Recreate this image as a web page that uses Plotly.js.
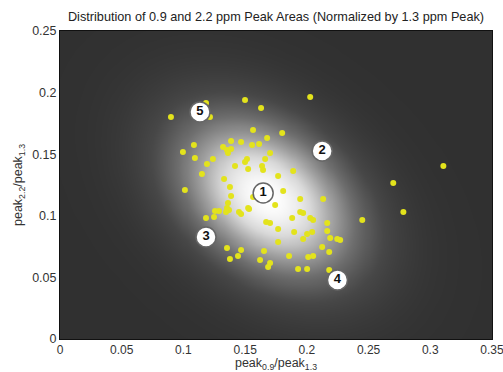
<!DOCTYPE html>
<html><head><meta charset="utf-8">
<script src="https://cdn.plot.ly/plotly-3.0.1.min.js"></script>
<style>html,body{margin:0;padding:0;background:#fff;}#chart{width:503px;height:372px;}</style>
</head><body><div id="chart"></div>
<script>
// peak 0.9 / peak 1.3 (x) and peak 2.2 / peak 1.3 (y)
const ratio09 = [0.0899,0.1183,0.1215,0.1499,0.1629,0.2027,0.1564,0.1800,0.1678,0.1613,0.1556,0.1467,0.1386,0.1321,0.1353,0.1386,0.1361,0.1085,0.0996,0.1093,0.1239,0.1191,0.1515,0.1499,0.1662,0.1702,0.1637,0.1645,0.1418,0.1524,0.1150,0.1329,0.1377,0.1767,0.1889,0.1012,0.1808,0.1386,0.1564,0.1361,0.1256,0.1288,0.1353,0.1369,0.1345,0.1450,0.1467,0.1524,0.1532,0.1183,0.1248,0.1743,0.1946,0.2132,0.1946,0.1970,0.1881,0.2027,0.2051,0.1670,0.1702,0.1767,0.1897,0.2002,0.2043,0.1970,0.2165,0.2165,0.2189,0.2246,0.2270,0.1767,0.2124,0.2181,0.1353,0.1467,0.1442,0.1377,0.1653,0.1856,0.2011,0.2051,0.1621,0.1702,0.1686,0.1929,0.2002,0.2181,0.3106,0.2700,0.2782,0.2449];
const ratio22 = [0.1802,0.1916,0.1802,0.1940,0.1875,0.1964,0.1696,0.1672,0.1631,0.1583,0.1575,0.1599,0.1607,0.1558,0.1534,0.1542,0.1510,0.1575,0.1518,0.1469,0.1461,0.1420,0.1461,0.1437,0.1461,0.1510,0.1404,0.1372,0.1404,0.1380,0.1339,0.1299,0.1234,0.1323,0.1364,0.1209,0.1201,0.1161,0.1153,0.1104,0.1039,0.1039,0.1063,0.1047,0.1031,0.1031,0.1015,0.1063,0.1055,0.0982,0.0990,0.1088,0.1136,0.1136,0.1031,0.1023,0.0982,0.0982,0.0966,0.0950,0.0942,0.0893,0.0869,0.0852,0.0869,0.0812,0.0942,0.0877,0.0820,0.0812,0.0804,0.0787,0.0747,0.0706,0.0739,0.0722,0.0674,0.0649,0.0714,0.0674,0.0666,0.0674,0.0641,0.0617,0.0584,0.0568,0.0568,0.0560,0.1404,0.1266,0.1031,0.0966];

// numbered reference markers
const markerX = [0.1646,0.2124,0.1183,0.2248,0.1134];
const markerY = [0.1185,0.1526,0.0828,0.0479,0.1843];
const markerLabels = ['1','2','3','4','5'];

const xTickVals = [0,0.05,0.1,0.15,0.2,0.25,0.3,0.35];
const xTickText = ['0','0.05','0.1','0.15','0.2','0.25','0.3','0.35'];
const yTickVals = [0,0.05,0.1,0.15,0.2,0.25];
const yTickText = ['0','0.05','0.1','0.15','0.2','0.25'];

// Gaussian fit of the data drawn as the background
const n = ratio09.length;
const mx = ratio09.reduce((a,b)=>a+b,0)/n;
const my = ratio22.reduce((a,b)=>a+b,0)/n;
let sxx=0, syy=0, sxy=0;
for (let i=0;i<n;i++){const dx=ratio09[i]-mx, dy=ratio22[i]-my; sxx+=dx*dx; syy+=dy*dy; sxy+=dx*dy;}
sxx/=n-1; syy/=n-1; sxy/=n-1;
const spread = 1.7;
const det = sxx*syy - sxy*sxy;
const gx = [], gy = [], gz = [];
const NX = 141, NY = 101;
for (let i=0;i<NX;i++) gx.push(0.35*i/(NX-1));
for (let j=0;j<NY;j++) gy.push(0.25*j/(NY-1));
for (let j=0;j<NY;j++){
  const row=[];
  for (let i=0;i<NX;i++){
    const dx=gx[i]-mx, dy=gy[j]-my;
    const q=(syy*dx*dx - 2*sxy*dx*dy + sxx*dy*dy)/det/spread;
    row.push(Math.exp(-0.5*q));
  }
  gz.push(row);
}

const font = 'Liberation Sans, Arial, sans-serif';
const traces = [
  {type:'heatmap', x:gx, y:gy, z:gz, zsmooth:'best', showscale:false, hoverinfo:'skip',
   zmin:0, zmax:1, colorscale:[[0,'#303030'],[0.2,'#474747'],[0.4,'#6e6e6e'],[0.6,'#a0a0a0'],[0.8,'#d8d8d8'],[1,'#ffffff']]},
  {type:'scatter', mode:'markers', x:ratio09, y:ratio22,
   marker:{size:6, color:'#e3e31c', line:{width:0}}, hoverinfo:'x+y'},
  {type:'scatter', mode:'markers+text', x:markerX, y:markerY, text:markerLabels,
   textposition:'middle center', textfont:{family:font, size:13, color:'#111', weight:'bold'},
   marker:{size:20, color:'#ffffff', line:{width:1.5, color:'#666'}}, hoverinfo:'skip'}
];

const layout = {
  width:503, height:372,
  margin:{l:60, r:11, t:31, b:33},
  paper_bgcolor:'#ffffff', plot_bgcolor:'#303030',
  showlegend:false,
  font:{family:font, size:12, color:'#333'},
  title:{text:'Distribution of 0.9 and 2.2 ppm Peak Areas (Normalized by 1.3 ppm Peak)',
    font:{family:font, size:12.7, color:'#222'}, xref:'paper', x:0.5, xanchor:'center',
    yref:'container', y:0.955, yanchor:'middle'},
  xaxis:{range:[0,0.35], tickvals:xTickVals, ticktext:xTickText, ticks:'', showgrid:false, zeroline:false,
    showline:true, mirror:true, linecolor:'#111', linewidth:1, tickfont:{family:font, size:12, color:'#333'},
    ticklabeloverflow:'allow',
    title:{text:'peak<sub>0.9</sub>/peak<sub>1.3</sub>', font:{family:font, size:12.5, color:'#333'}, standoff:5}},
  yaxis:{range:[0,0.25], tickvals:yTickVals, ticktext:yTickText, ticks:'', showgrid:false, zeroline:false,
    showline:true, mirror:true, linecolor:'#111', linewidth:1, tickfont:{family:font, size:12.5, color:'#333'},
    ticklabeloverflow:'allow',
    title:{text:'peak<sub>2.2</sub>/peak<sub>1.3</sub>', font:{family:font, size:12.5, color:'#333'}, standoff:6}}
};

Plotly.newPlot('chart', traces, layout, {displayModeBar:false, staticPlot:true});
</script>
</body></html>
